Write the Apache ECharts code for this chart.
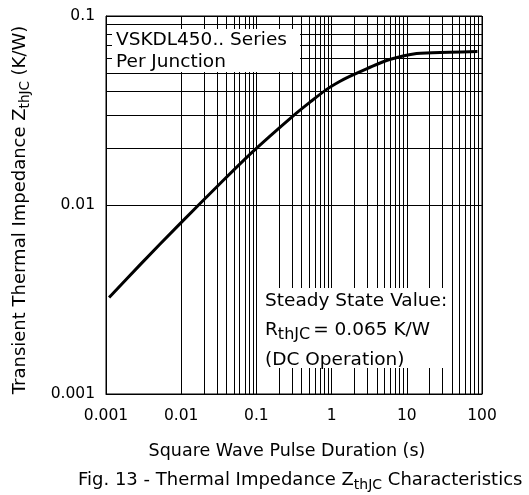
<!DOCTYPE html>
<html><head><meta charset="utf-8">
<script src="https://cdn.jsdelivr.net/npm/echarts@6/dist/echarts.min.js"></script>
<style>html,body{margin:0;padding:0;background:#fff}#c{width:529px;height:495px}</style>
</head><body><div id="c"></div>
<script>
// Data
const pulseDuration = [0.0011, 0.00283, 0.0096, 0.0327, 0.0896, 0.295, 0.512, 0.86, 1.28, 1.74, 3.02, 5.91, 13.5, 37, 87];
const zthjc = [0.00324, 0.00482, 0.00795, 0.01296, 0.01917, 0.0292, 0.0349, 0.0409, 0.045, 0.0479, 0.0529, 0.0589, 0.0634, 0.0643, 0.0648];
const xTickLabels = ['0.001', '0.01', '0.1', '1', '10', '100'];
const yTickLabels = ['0.001', '0.01', '0.1'];
const xDecades = [0.001, 0.01, 0.1, 1, 10];
const yDecades = [0.001, 0.01];
const minorMultipliers = [2, 3, 4, 5, 6, 7, 8, 9];

const FONT = 'DejaVu Sans';
const curveData = pulseDuration.map((x, i) => [x, zthjc[i]]);
const minorLines = [];
xDecades.forEach(d => minorMultipliers.forEach(m => minorLines.push({ xAxis: +(d * m).toPrecision(3) })));
yDecades.forEach(d => minorMultipliers.forEach(m => minorLines.push({ yAxis: +(d * m).toPrecision(3) })));

function tickLabel(labels, offset) {
  return v => labels[Math.round(Math.log10(v)) + offset] || '';
}

const chart = echarts.init(document.getElementById('c'), null, { renderer: 'canvas' });
chart.setOption({
  animation: false,
  backgroundColor: '#fff',
  textStyle: { fontFamily: FONT, color: '#000' },
  grid: { left: 106, right: 47, top: 16, bottom: 101, show: true, borderColor: '#000', borderWidth: 1, backgroundColor: 'transparent' },
  title: {
    text: '{n|Fig. 13 - Thermal Impedance Z}{sub|thJC}{n| Characteristics}',
    left: 73, top: 463,
    textStyle: {
      fontFamily: FONT, color: '#000', fontWeight: 'normal',
      rich: {
        n: { fontFamily: FONT, fontSize: 18, fontWeight: 'normal', color: '#000', lineHeight: 24, verticalAlign: 'middle' },
        sub: { fontFamily: FONT, fontSize: 14, fontWeight: 'normal', color: '#000', lineHeight: 12, verticalAlign: 'bottom' }
      }
    }
  },
  xAxis: {
    type: 'log', logBase: 10, min: 0.001, max: 100,
    name: 'Square Wave Pulse Duration (s)', nameLocation: 'middle', nameGap: 48,
    nameTextStyle: { fontFamily: FONT, fontSize: 17.5, color: '#000', padding: [0, 14, 0, 0] },
    axisLine: { show: true, lineStyle: { color: '#000', width: 1 } },
    axisTick: { show: false },
    axisLabel: { fontFamily: FONT, fontSize: 15.5, color: '#000', margin: 14, formatter: tickLabel(xTickLabels, 3) },
    splitLine: { show: true, lineStyle: { color: '#000', width: 1 } },
    minorTick: { show: false }, minorSplitLine: { show: false }
  },
  yAxis: {
    type: 'log', logBase: 10, min: 0.001, max: 0.1,
    name: '{n|Transient Thermal Impedance Z}{sub|thJC}{n| (K/W)}',
    nameLocation: 'middle', nameGap: 74, nameRotate: 90,
    nameTextStyle: {
      fontFamily: FONT, color: '#000', padding: [0, 10, 0, 0],
      rich: {
        n: { fontFamily: FONT, fontSize: 18, color: '#000', lineHeight: 24, verticalAlign: 'middle' },
        sub: { fontFamily: FONT, fontSize: 13.5, color: '#000', lineHeight: 12, verticalAlign: 'bottom' }
      }
    },
    axisLine: { show: true, lineStyle: { color: '#000', width: 1 } },
    axisTick: { show: false },
    axisLabel: { fontFamily: FONT, fontSize: 15.5, color: '#000', margin: 11, formatter: tickLabel(yTickLabels, 3) },
    splitLine: { show: true, lineStyle: { color: '#000', width: 1 } },
    minorTick: { show: false }, minorSplitLine: { show: false }
  },
  series: [
    {
      type: 'line', data: curveData, showSymbol: false, silent: true,
      lineStyle: { opacity: 0, width: 0 },
      markLine: {
        silent: true, symbol: ['none', 'none'], animation: false,
        label: { show: false },
        lineStyle: { color: '#000', width: 1, type: 'solid' },
        emphasis: { disabled: true },
        data: minorLines
      }
    },
    {
      type: 'line', data: curveData, smooth: 0.3, showSymbol: false, silent: true, z: 10,
      lineStyle: { color: '#000', width: 3 }
    }
  ],
  graphic: [
    { type: 'rect', z: 100, shape: { x: 112, y: 29, width: 188, height: 43 }, style: { fill: '#fff' } },
    { type: 'text', z: 101, x: 116, y: 40, style: { text: 'VSKDL450.. Series', fontFamily: FONT, fontSize: 18.5, fill: '#000', verticalAlign: 'middle' } },
    { type: 'text', z: 101, x: 116, y: 62, style: { text: 'Per Junction', fontFamily: FONT, fontSize: 18.5, fill: '#000', verticalAlign: 'middle' } },
    { type: 'rect', z: 100, shape: { x: 263, y: 288, width: 186, height: 80 }, style: { fill: '#fff' } },
    { type: 'text', z: 101, x: 265, y: 301, style: { text: 'Steady State Value:', fontFamily: FONT, fontSize: 18.5, fill: '#000', verticalAlign: 'middle' } },
    { type: 'text', z: 101, x: 265, y: 330, style: {
        text: '{n|R}{sub|thJC}{n|= 0.065 K/W}', verticalAlign: 'middle',
        rich: {
          n: { fontFamily: FONT, fontSize: 18.5, fill: '#000', lineHeight: 26, verticalAlign: 'middle' },
          sub: { fontFamily: FONT, fontSize: 16, fill: '#000', lineHeight: 14, verticalAlign: 'bottom', padding: [0, 3, 0, 0] }
        } } },
    { type: 'text', z: 101, x: 265, y: 360, style: { text: '(DC Operation)', fontFamily: FONT, fontSize: 18.5, fill: '#000', verticalAlign: 'middle' } }
  ]
});
</script>
</body></html>
